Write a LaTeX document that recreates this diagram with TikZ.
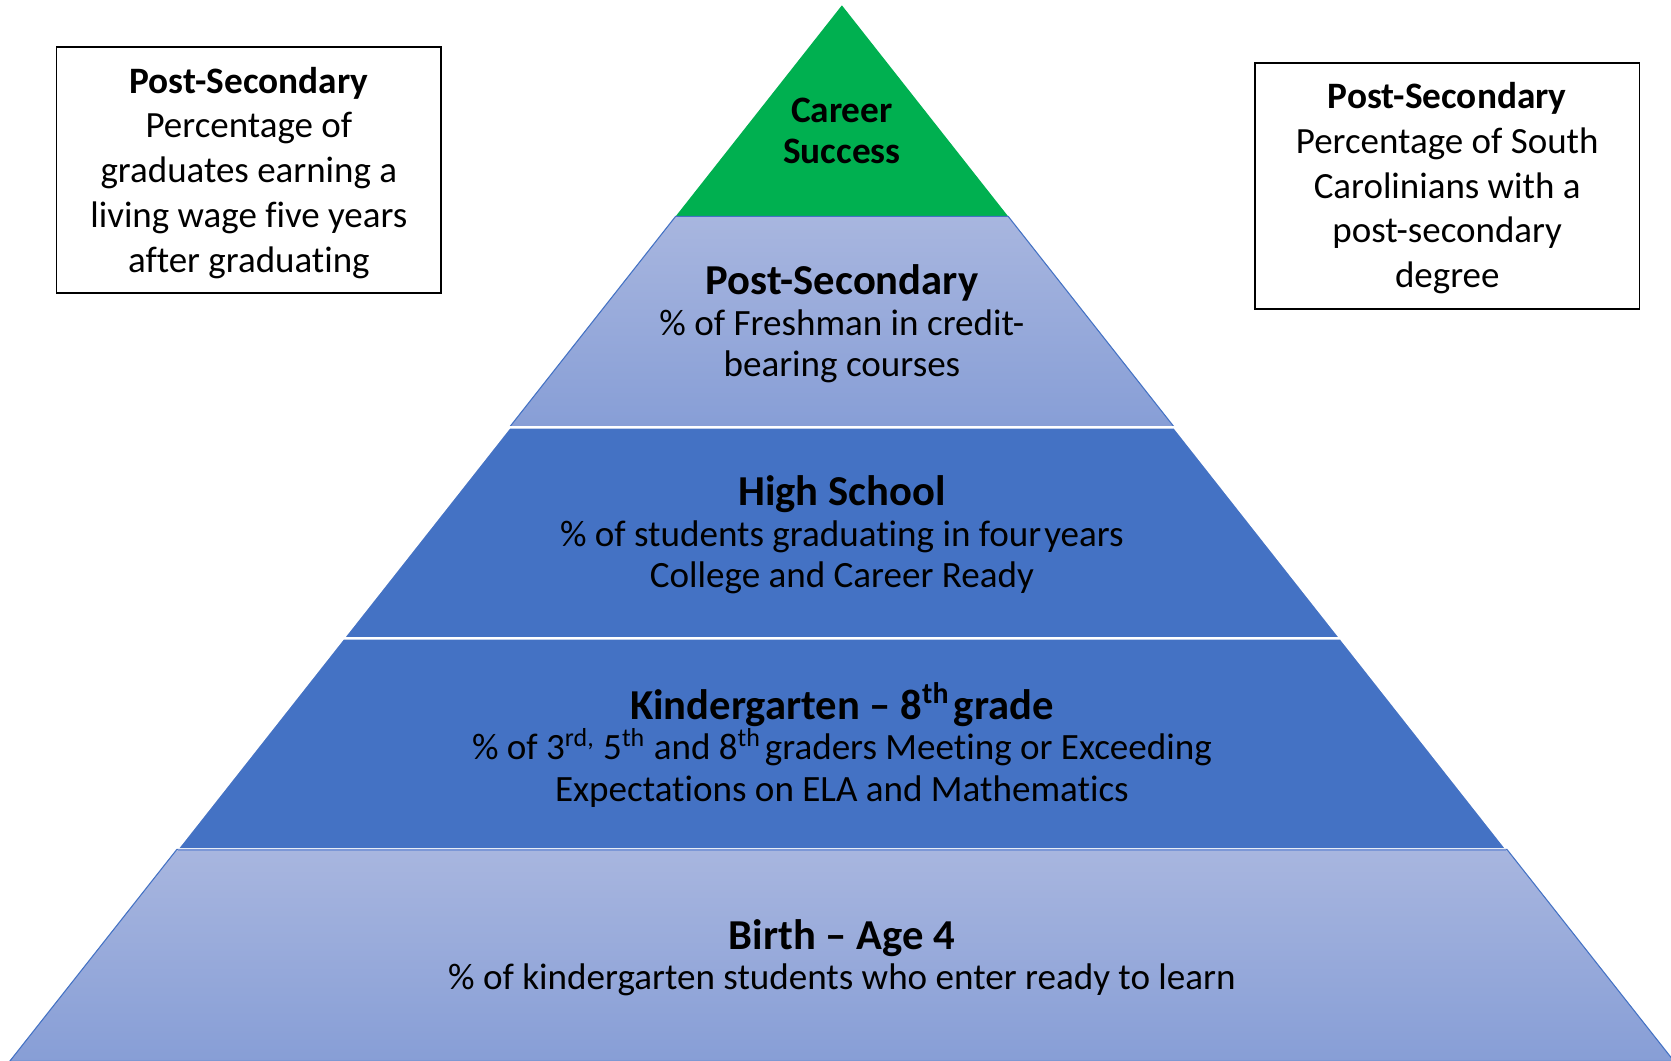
\documentclass[tikz,border=0pt]{standalone}
\usepackage{fontspec}
\setmainfont{Carlito}[Ligatures=NoCommon]
\definecolor{pgreen}{HTML}{00B050}
\definecolor{pblue}{HTML}{4472C4}
\definecolor{ltop}{HTML}{A8B6DF}
\definecolor{lbot}{HTML}{879ED6}
\definecolor{lline}{HTML}{7C97D6}
\begin{document}
\begin{tikzpicture}[x=0.5pt,y=-0.5pt,
  lvltext/.style={align=center,inner sep=0pt,text=black,font=\fontsize{17.4}{19.5}\selectfont},
  sidebox/.style={draw=black,line width=0.75pt,align=center,inner sep=0pt,minimum width=180.5pt,minimum height=115.5pt},
  boxtext/.style={align=center,inner sep=0pt,font=\fontsize{17.35}{21}\selectfont},
  solidlvl/.style={fill=pblue,draw=white,line width=1.1pt,line join=miter},
  gradlvl/.style={top color=ltop,bottom color=lbot,draw=pblue,line width=0.5pt}]
\useasboundingbox (0,0) rectangle (1568,995);
\newcommand{\hfnt}{\fontsize{20}{19.5}\selectfont\bfseries}
\newcommand{\bfnt}{\fontsize{17.5}{21}\selectfont\bfseries}
% pyramid
\fill[pgreen] (790,5) -- (946,203) -- (634,203) -- cycle;
\path[gradlvl] (634,203) -- (946,203) -- (1102,401) -- (478,401) -- cycle;
\path[solidlvl] (478,401) -- (1102,401) -- (1258,599) -- (322,599) -- cycle;
\path[solidlvl] (322,599) -- (1258,599) -- (1414,797) -- (166,797) -- cycle;
\path[gradlvl] (166,797) -- (1414,797) -- (1571,996) -- (9,996) -- cycle;
\draw[lline,line width=1pt] (167,797.5) -- (1413,797.5);
% texts
\node[lvltext,font=\fontsize{17.5}{19.5}\selectfont\bfseries] (cs) at (790,123) {Career\\Success};
\node[lvltext] (ps) at (790,304) {{\hfnt Post-Secondary}\\[-0.5pt]\% of Freshman in credit-\\bearing courses};
\node[lvltext] (hs) at (790,502) {{\hfnt High School}\\[-0.5pt]\% of students graduating in four\hspace{0.08em}years\\College and Career Ready};
\node[lvltext] (kg) at (790,699) {{\hfnt Kindergarten -- 8\textsuperscript{th}\hspace{0.1em}grade}\\[-0.5pt]\% of 3\textsuperscript{rd,} 5\textsuperscript{th} and 8\textsuperscript{th}\hspace{0.1em}graders Meeting or Exceeding\\Expectations on ELA and Mathematics};
\node[lvltext] (ba) at (790,898.5) {{\hfnt Birth -- Age 4}\\[-0.5pt]\% of kindergarten students who enter ready to learn};
% side boxes
\node[sidebox] (lb) at (233.5,159.5) {};
\node[boxtext] (lbt) at (233.5,162) {{\bfnt Post-Secondary}\\Percentage of\\graduates earning a\\living wage five years\\after graduating};
\node[sidebox] (rb) at (1358,174.5) {};
\node[boxtext] (rbt) at (1358,176.5) {{\bfnt Post-Secondary}\\Percentage of South\\Carolinians with a\\post-secondary\\degree};
\end{tikzpicture}
\end{document}
